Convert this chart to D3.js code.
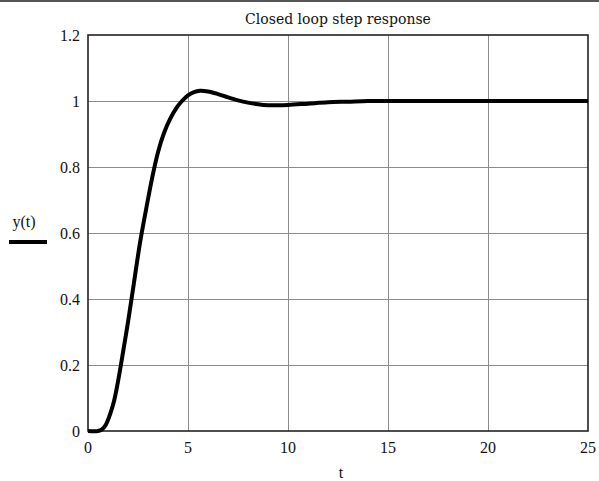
<!DOCTYPE html>
<html lang="en">
<head>
    <meta charset="UTF-8">
    <title>Closed loop step response</title>
    <script src="https://d3js.org/d3.v7.min.js"></script>
    <style>
        body {
            margin: 0;
            background: #fff;
        }
        .grid line {
            stroke: #8c8c8c;
            stroke-width: 1px;
        }
    </style>
</head>
<body>
    <svg id="chart" width="599" height="481"></svg>
    <script>
        // step response samples
        const tValues = [0, 0.5, 0.7, 0.9, 1.1, 1.3, 1.5, 1.7, 2.0, 2.3, 2.6, 2.9, 3.2, 3.5, 3.8, 4.1, 4.4, 4.7, 5.0, 5.3, 5.6, 6.0, 6.5, 7.0, 7.5, 8.0, 8.5, 9.0, 9.5, 10, 11, 12, 13, 14, 15, 17, 20, 25];
        const yValues = [0, 0, 0.005, 0.02, 0.05, 0.09, 0.15, 0.22, 0.33, 0.45, 0.57, 0.67, 0.765, 0.845, 0.903, 0.945, 0.977, 1.0, 1.017, 1.027, 1.031, 1.029, 1.021, 1.011, 1.002, 0.995, 0.99, 0.987, 0.987, 0.988, 0.992, 0.996, 0.998, 1.0, 1.0, 1.0, 1.0, 1.0];

        const xTicks = [0, 5, 10, 15, 20, 25];
        const yTicks = [0, 0.2, 0.4, 0.6, 0.8, 1, 1.2];
        const yTickLabels = ['0', '0.2', '0.4', '0.6', '0.8', '1', '1.2'];

        const svg = d3.select('#chart');
        const serif = '"Liberation Serif", "Times New Roman", serif';

        // plot box
        const box = { left: 88, right: 588, top: 35, bottom: 431 };

        const x = d3.scaleLinear().domain([0, 25]).range([box.left, box.right]);
        const y = d3.scaleLinear().domain([0, 1.2]).range([box.bottom, box.top]);

        // top border of the window
        svg.append('line')
            .attr('x1', 0).attr('x2', 599)
            .attr('y1', 1).attr('y2', 1)
            .attr('stroke', '#555')
            .attr('stroke-width', 2);

        // grid
        const grid = svg.append('g').attr('class', 'grid');
        grid.selectAll('.gx')
            .data(xTicks.slice(1, -1))
            .enter().append('line')
            .attr('x1', d => Math.round(x(d)) + 0.5)
            .attr('x2', d => Math.round(x(d)) + 0.5)
            .attr('y1', box.top)
            .attr('y2', box.bottom);
        grid.selectAll('.gy')
            .data(yTicks.slice(1, -1))
            .enter().append('line')
            .attr('x1', box.left)
            .attr('x2', box.right)
            .attr('y1', d => Math.round(y(d)) + 0.5)
            .attr('y2', d => Math.round(y(d)) + 0.5);

        // frame
        svg.append('rect')
            .attr('x', box.left)
            .attr('y', box.top)
            .attr('width', box.right - box.left)
            .attr('height', box.bottom - box.top)
            .attr('fill', 'none')
            .attr('stroke', '#222')
            .attr('stroke-width', 1.6);

        // tick labels
        svg.selectAll('.xl')
            .data(xTicks)
            .enter().append('text')
            .attr('x', d => x(d))
            .attr('y', 453)
            .attr('text-anchor', 'middle')
            .attr('font-family', serif)
            .attr('font-size', 16)
            .attr('fill', '#111')
            .text(d => d);

        svg.selectAll('.yl')
            .data(yTicks)
            .enter().append('text')
            .attr('x', 80)
            .attr('y', d => y(d) + 6)
            .attr('text-anchor', 'end')
            .attr('font-family', serif)
            .attr('font-size', 16)
            .attr('fill', '#111')
            .text((d, i) => yTickLabels[i]);

        // curve
        const line = d3.line()
            .x((d, i) => x(tValues[i]))
            .y(d => y(d))
            .curve(d3.curveCatmullRom.alpha(0.5));

        svg.append('path')
            .datum(yValues)
            .attr('d', line)
            .attr('fill', 'none')
            .attr('stroke', '#000')
            .attr('stroke-width', 4)
            .attr('stroke-linejoin', 'round');

        // title
        svg.append('text')
            .attr('x', 338)
            .attr('y', 24)
            .attr('text-anchor', 'middle')
            .attr('font-family', '"DejaVu Serif", serif')
            .attr('font-size', 14)
            .attr('fill', '#111')
            .text('Closed loop step response');

        // axis label
        svg.append('text')
            .attr('x', 341)
            .attr('y', 478)
            .attr('text-anchor', 'middle')
            .attr('font-family', serif)
            .attr('font-size', 16)
            .attr('fill', '#111')
            .text('t');

        // legend
        svg.append('text')
            .attr('x', 24)
            .attr('y', 227)
            .attr('text-anchor', 'middle')
            .attr('font-family', serif)
            .attr('font-size', 16)
            .attr('fill', '#111')
            .text('y(t)');
        svg.append('line')
            .attr('x1', 9).attr('x2', 47)
            .attr('y1', 242).attr('y2', 242)
            .attr('stroke', '#000')
            .attr('stroke-width', 4);
    </script>
</body>
</html>
